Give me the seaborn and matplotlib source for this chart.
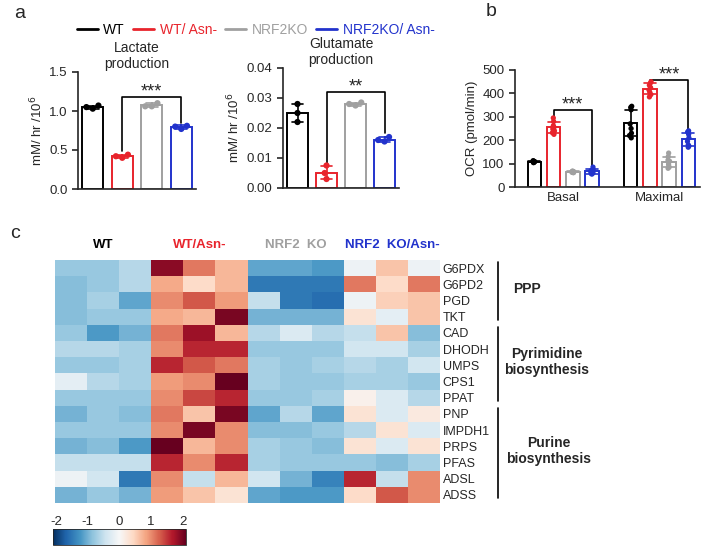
import numpy as np
import pandas as pd
import matplotlib
matplotlib.use("Agg")
import matplotlib.pyplot as plt
from matplotlib.lines import Line2D
import seaborn as sns

sns.set_style("ticks")
plt.rcParams["font.family"] = ["Liberation Sans", "DejaVu Sans"]
plt.rcParams["axes.linewidth"] = 1.2
plt.rcParams["axes.unicode_minus"] = False

# ---- data ----
groups = ["WT", "WT/ Asn-", "NRF2KO", "NRF2KO/ Asn-"]
colors = ["#000000", "#e8242c", "#a0a0a0", "#2233cc"]

lactate = [[1.07, 1.03, 1.05], [0.44, 0.40, 0.42], [1.10, 1.06, 1.06], [0.81, 0.77, 0.80]]
glutamate = [[0.028, 0.025, 0.022], [0.0075, 0.005, 0.003], [0.0285, 0.028, 0.0275], [0.017, 0.016, 0.0155]]

conditions = ["Basal", "Maximal"]
ocr_basal = [[110, 108, 112, 105, 107, 111, 104, 109],
             [295, 280, 262, 255, 248, 240, 232, 225],
             [68, 66, 64, 63, 62, 65, 67, 61],
             [85, 75, 70, 66, 62, 60, 58, 55]]
ocr_max = [[345, 340, 330, 270, 250, 230, 220, 210],
           [450, 445, 435, 425, 415, 405, 395, 385],
           [145, 130, 115, 110, 105, 95, 85, 80],
           [240, 235, 225, 210, 195, 180, 175, 170]]

genes = ["G6PDX", "G6PD2", "PGD", "TKT", "CAD", "DHODH", "UMPS", "CPS1",
         "PPAT", "PNP", "IMPDH1", "PRPS", "PFAS", "ADSL", "ADSS"]
heat_groups = ["WT", "WT/Asn-", "NRF2  KO", "NRF2  KO/Asn-"]
heat = [
    [-0.8, -0.8, -0.6, 1.9, 1.1, 0.7, -1.1, -1.1, -1.2, -0.1, 0.6, -0.1],
    [-0.9, -0.8, -0.6, 0.8, 0.4, 0.7, -1.5, -1.5, -1.5, 1.1, 0.4, 1.1],
    [-0.9, -0.7, -1.1, 1.0, 1.3, 0.9, -0.5, -1.5, -1.6, -0.1, 0.5, 0.6],
    [-0.9, -0.8, -0.8, 0.8, 0.7, 2.0, -1.0, -1.0, -1.0, 0.3, -0.2, 0.6],
    [-0.8, -1.2, -1.0, 1.1, 1.8, 0.7, -0.6, -0.3, -0.6, -0.5, 0.6, -0.9],
    [-0.6, -0.6, -0.7, 1.0, 1.6, 1.6, -0.8, -0.8, -0.8, -0.4, -0.4, -0.7],
    [-0.8, -0.8, -0.7, 1.6, 1.3, 1.1, -0.7, -0.8, -0.7, -0.6, -0.7, -0.4],
    [-0.2, -0.6, -0.7, 0.9, 1.0, 2.2, -0.7, -0.8, -0.8, -0.7, -0.7, -0.8],
    [-0.8, -0.8, -0.8, 1.0, 1.4, 1.6, -0.8, -0.8, -0.7, 0.1, -0.3, -0.6],
    [-1.0, -0.8, -0.9, 1.1, 0.6, 2.0, -1.1, -0.6, -1.1, 0.3, -0.3, 0.2],
    [-0.8, -0.8, -0.8, 1.0, 2.0, 1.0, -0.9, -0.9, -0.8, -0.6, 0.3, -0.3],
    [-1.0, -0.9, -1.2, 2.1, 0.7, 1.0, -0.7, -0.8, -0.9, 0.3, -0.3, 0.3],
    [-0.5, -0.5, -0.5, 1.6, 1.0, 1.6, -0.7, -0.8, -0.8, -0.8, -0.9, -0.7],
    [-0.1, -0.4, -1.5, 1.0, -0.5, 0.7, -0.4, -1.0, -1.4, 1.6, -0.5, 1.0],
    [-1.0, -0.8, -1.0, 0.9, 0.6, 0.3, -1.1, -1.2, -1.2, 0.4, 1.3, 1.0],
]
pathways = [("PPP", 0, 4), ("Pyrimidine\nbiosynthesis", 4, 9), ("Purine\nbiosynthesis", 9, 15)]
pathway_label_x = [1.226, 1.278, 1.283]


def rect(x0, y0, x1, y1):
    return [x0 / 710, 1 - y1 / 550, (x1 - x0) / 710, (y1 - y0) / 550]


def long_df(values):
    rows = []
    for g, vals in zip(groups, values):
        for v in vals:
            rows.append((g, v))
    return pd.DataFrame(rows, columns=["group", "value"])


def bracket(ax, x0, x1, top, left_low, right_low, stars, star_off):
    ax.plot([x0, x0, x1, x1], [left_low, top, top, right_low], color="black", lw=1.2, clip_on=False)
    ax.text((x0 + x1) / 2, top + star_off, stars, ha="center", va="center", fontsize=13)


fig = plt.figure(figsize=(7.1, 5.5), dpi=100)
pal = dict(zip(groups, colors))

# ---- panel a ----
panels_a = [
    (lactate, "Lactate\nproduction", rect(78, 72, 196, 189), [0, 0.5, 1.0, 1.5], "%.1f", (1.18, 0.49, 0.84), "***"),
    (glutamate, "Glutamate\nproduction", rect(283, 68, 399, 188), [0, 0.01, 0.02, 0.03, 0.04], "%.2f", (0.032, 0.0083, 0.0185), "**"),
]
for vals, title, r, ticks, fmt, br, stars in panels_a:
    ax = fig.add_axes(r)
    d = long_df(vals)
    sns.barplot(data=d, x="group", y="value", hue="group", palette=pal, fill=False,
                errorbar="sd", capsize=0.4, width=0.7, legend=False, linewidth=1.4,
                err_kws={"linewidth": 1.2}, ax=ax)
    sns.swarmplot(data=d, x="group", y="value", hue="group", palette=pal, size=4.5,
                  legend=False, ax=ax)
    ax.set_ylim(ticks[0], ticks[-1])
    ax.set_yticks(ticks)
    ax.yaxis.set_major_formatter(matplotlib.ticker.FormatStrFormatter(fmt))
    ax.set_xlim(-0.5, 3.5)
    ax.set_xticks([])
    ax.set_xlabel("")
    ax.set_ylabel("mM/ hr /10$^6$", fontsize=9.5, labelpad=3)
    ax.set_title(title, fontsize=10, pad=3)
    ax.tick_params(axis="y", labelsize=9.5, width=1.2, length=4)
    sns.despine(ax=ax)
    bracket(ax, 1, 3, br[0], br[1], br[2], stars, (ticks[-1] - ticks[0]) * 0.045)

handles = [Line2D([0], [0], color=c, lw=2) for c in colors]
fig.legend(handles, groups, loc="center", bbox_to_anchor=(0.36, 0.946), ncol=4, frameon=False,
           labelcolor="linecolor", fontsize=10, handlelength=1.5, handletextpad=0.4, columnspacing=0.6)

# ---- panel b ----
axb = fig.add_axes(rect(515, 70, 700, 187))
rows = []
for cond, data in zip(conditions, [ocr_basal, ocr_max]):
    for g, vals in zip(groups, data):
        for v in vals:
            rows.append((cond, g, v))
dfb = pd.DataFrame(rows, columns=["cond", "group", "ocr"])
sns.barplot(data=dfb, x="cond", y="ocr", hue="group", palette=pal, fill=False, errorbar="sd",
            capsize=0.5, width=0.8, gap=0.3, legend=False, linewidth=1.4,
            err_kws={"linewidth": 1.2}, ax=axb)
np.random.seed(1)
sns.stripplot(data=dfb, x="cond", y="ocr", hue="group", palette=pal, dodge=True, jitter=0.05,
              size=3.8, legend=False, ax=axb)
axb.set_ylim(0, 500)
axb.set_yticks([0, 100, 200, 300, 400, 500])
axb.set_xlim(-0.5, 1.42)
axb.set_xlabel("")
axb.set_ylabel("OCR (pmol/min)", fontsize=9.5, labelpad=3)
axb.tick_params(axis="y", labelsize=9.5, width=1.2, length=4)
axb.tick_params(axis="x", labelsize=9.5, length=0)
sns.despine(ax=axb)
offs = [-0.3, -0.1, 0.1, 0.3]
bracket(axb, 0 + offs[1], 0 + offs[3], 329, 300, 88, "***", 22)
bracket(axb, 1 + offs[1], 1 + offs[3], 457, 452, 245, "***", 22)

# ---- panel c ----
axh = fig.add_axes(rect(55, 260, 440, 503))
cax = fig.add_axes(rect(53, 529, 186, 545))
sns.heatmap(np.array(heat), cmap="RdBu_r", vmin=-2.1, vmax=2.1, ax=axh, cbar_ax=cax,
            cbar_kws={"orientation": "horizontal", "ticks": [-2, -1, 0, 1, 2]},
            xticklabels=False, yticklabels=genes)
axh.yaxis.tick_right()
axh.set_yticklabels(genes, rotation=0, fontsize=9)
axh.tick_params(axis="y", length=0, pad=2)
for i, (lab, col) in enumerate(zip(heat_groups, colors)):
    axh.text(3 * i + 1.5, -0.9, lab, ha="center", va="center", color=col,
             fontsize=9.5, fontweight="bold")
tr = axh.get_yaxis_transform()
for (lab, start, end), lx in zip(pathways, pathway_label_x):
    axh.plot([1.15, 1.15], [start + 0.15, end - 0.3], color="black", lw=1.2,
             transform=tr, clip_on=False)
    axh.text(lx, (start + end) / 2 - 0.2, lab, transform=tr, ha="center", va="center",
             fontsize=10, fontweight="bold")
cax.xaxis.set_ticks_position("top")
cax.tick_params(length=0, labelsize=9.5, pad=1)
axh.collections[0].colorbar.outline.set_linewidth(0.6)

fig.text(14 / 710, 1 - 14 / 550, "a", fontsize=14, va="center")
fig.text(486 / 710, 1 - 12 / 550, "b", fontsize=14, va="center")
fig.text(10 / 710, 1 - 233 / 550, "c", fontsize=14, va="center")

fig.savefig("out.png", dpi=100)
